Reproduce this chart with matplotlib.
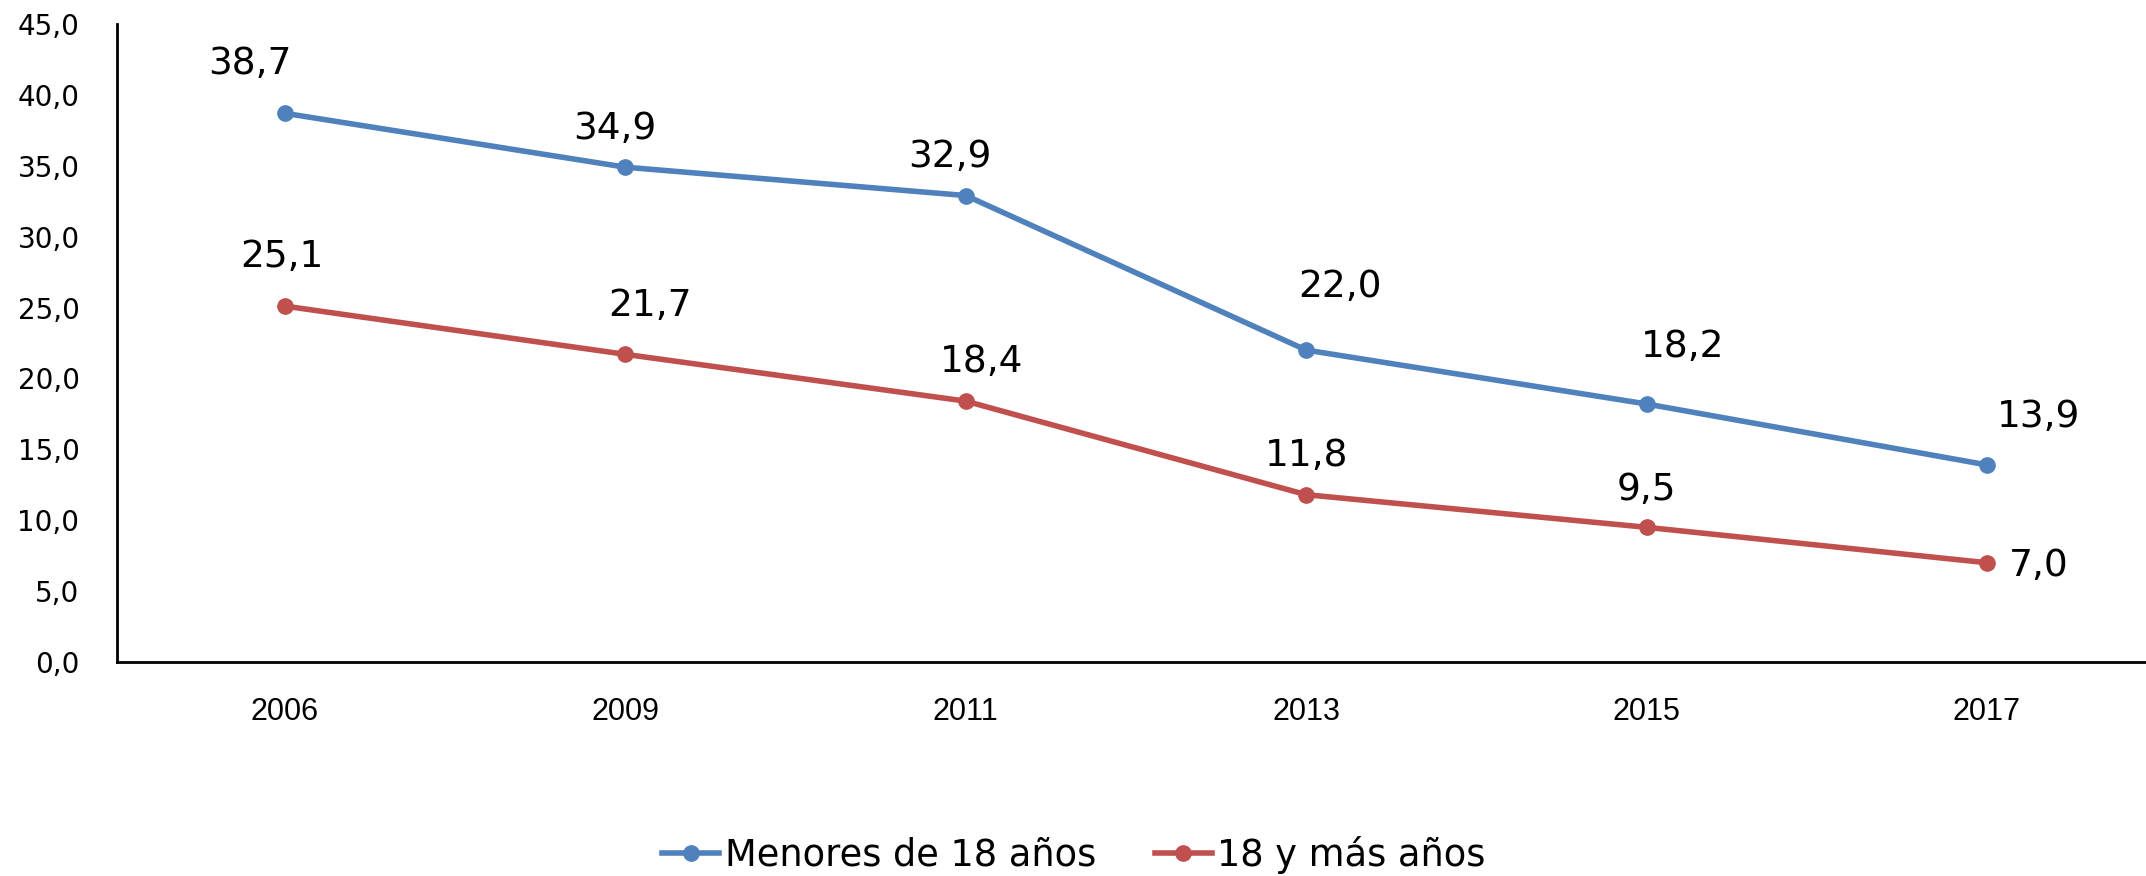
import numpy as np
import matplotlib
matplotlib.use("Agg")
import matplotlib.pyplot as plt

# datos
years = ["2006", "2009", "2011", "2013", "2015", "2017"]
menores = [38.7, 34.9, 32.9, 22.0, 18.2, 13.9]
mayores = [25.1, 21.7, 18.4, 11.8, 9.5, 7.0]
series_names = ["Menores de 18 años", "18 y más años"]

# desplazamiento de etiquetas (pixeles)
off_menores = [(-35, 49), (-11, 38), (-16, 39), (34, 63), (36, 57), (52, 48)]
off_mayores = [(-3, 49), (25, 48), (16, 39), (0, 39), (0, 37), (52, -3)]

blue = "#4F81BD"
red = "#C0504D"

fig = plt.figure(figsize=(21.46, 8.76), dpi=100)
ax = fig.add_axes([117 / 2146, 1 - 662 / 876, 1 - 117 / 2146, (662 - 24) / 876])

x = np.arange(len(years))
l1, = ax.plot(x, menores, color=blue, lw=4, marker="o", ms=11, label=series_names[0])
l2, = ax.plot(x, mayores, color=red, lw=4, marker="o", ms=11, label=series_names[1])

def fmt(v):
    return f"{v:.1f}".replace(".", ",")

for vals, offs in ((menores, off_menores), (mayores, off_mayores)):
    for xi, v, (dx, dy) in zip(x, vals, offs):
        ax.annotate(fmt(v), (xi, v), xytext=(dx, dy), textcoords="offset pixels",
                    ha="center", va="center", fontsize=27, family="DejaVu Sans")

ax.set_ylim(0, 45)
ax.set_yticks(np.arange(0, 46, 5))
ax.set_yticklabels([fmt(t) for t in np.arange(0, 46, 5)], fontsize=20, family="DejaVu Sans")
ax.set_xlim((117 - 285) / 340.4, (2146 - 285) / 340.4)
ax.set_xticks(x)
ax.set_xticklabels(years, fontsize=22, family="Liberation Sans")
ax.tick_params(axis="y", length=0, pad=27)
ax.tick_params(axis="x", length=0, pad=25)

for s in ("top", "right"):
    ax.spines[s].set_visible(False)
for s in ("left", "bottom"):
    ax.spines[s].set_linewidth(2)
    ax.spines[s].set_color("black")

fig.legend(handles=[l1, l2], loc="center", bbox_to_anchor=(1074 / 2146, 1 - 855 / 876),
           ncol=2, frameon=False, handlelength=1.55, handletextpad=0.15, columnspacing=1.6,
           prop={"family": "DejaVu Sans", "size": 26.5})

fig.savefig("out.png", dpi=100)
